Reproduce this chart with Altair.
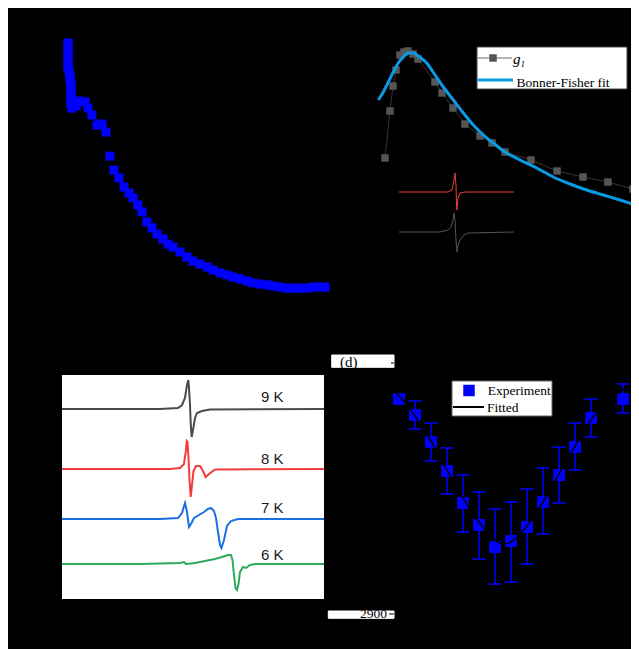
import altair as alt
import pandas as pd

# ---------------- Panel (a): susceptibility vs T ----------------
a_T = [6.7, 6.7, 6.7, 6.7, 6.7, 6.7, 6.7, 7.8, 8.9, 8.9, 10.0, 10.0, 10.0, 10.0, 10.0, 10.0, 11.1,
       15.6, 20.0, 25.6, 28.9, 33.3, 38.9, 44.4, 48.9, 53.3, 57.8,
       63.3, 68.9, 74.4, 78.9, 84.4, 88.9, 94.4, 100.0, 105.6, 112.2,
       117.8, 123.3, 131.1, 138.9, 145.6, 153.3, 161.1, 167.8, 175.6, 183.3,
       190.0, 197.8, 205.6, 212.2, 220.0, 227.8, 234.4, 242.2, 250.0, 256.7,
       264.4, 272.2, 278.9, 286.7, 292.2]
a_chi = [0.952, 0.937, 0.922, 0.907, 0.893, 0.878, 0.863, 0.848, 0.830, 0.815, 0.800, 0.785, 0.770, 0.756, 0.741, 0.726, 0.711,
         0.719, 0.737, 0.733, 0.711, 0.685, 0.648, 0.652, 0.622, 0.533, 0.481,
         0.452, 0.419, 0.396, 0.378, 0.352, 0.326, 0.289, 0.267, 0.244, 0.226,
         0.207, 0.196, 0.178, 0.159, 0.144, 0.133, 0.122, 0.111, 0.100, 0.093,
         0.085, 0.078, 0.070, 0.063, 0.059, 0.056, 0.052, 0.048, 0.044, 0.044,
         0.044, 0.044, 0.048, 0.048, 0.048]
A_X = [0, 300]
A_Y = [0, 1]

# ---------------- Panel (b): g_I vs T with Bonner-Fisher fit ----------------
b_T = [1.8, 2.8, 3.4, 4.0, 4.8, 5.6, 6.4, 7.4, 8.4, 11.8, 13.2, 15.4, 17.8, 20.8, 23.2, 25.8, 31.0, 36.2, 41.4, 46.4, 51.4]
b_g = [1.42, 1.89, 2.14, 2.30, 2.45, 2.48, 2.49, 2.46, 2.41, 2.18, 2.07, 1.92, 1.76, 1.64, 1.57, 1.48, 1.40, 1.29, 1.23, 1.18, 1.11]
fit_T = [0.46, 1.46, 2.46, 3.46, 4.46, 5.46, 6.46, 7.46, 8.46, 10.14, 11.8, 13.46, 15.46, 17.46, 19.46, 21.46,
         23.46, 25.8, 28.8, 32.14, 35.46, 38.8, 42.14, 45.46, 48.8, 52.6]
fit_v = [2.00, 2.08, 2.18, 2.28, 2.37, 2.43, 2.47, 2.47, 2.44, 2.37, 2.25, 2.13, 2.00, 1.87, 1.75, 1.65,
         1.57, 1.48, 1.40, 1.32, 1.23, 1.16, 1.10, 1.05, 1.00, 0.94]
ins_red_T = [4.6, 14.4, 15.2, 15.6, 15.8, 16.0, 16.1, 16.2, 16.4, 16.8, 17.8, 27.6]
ins_red_v = [1.08, 1.08, 1.10, 1.20, 1.27, 1.15, 0.95, 0.90, 1.02, 1.07, 1.08, 1.08]
ins_gray_T = [4.6, 12.8, 14.4, 15.0, 15.4, 15.6, 15.8, 16.0, 16.2, 16.4, 16.8, 17.4, 18.4, 27.6]
ins_gray_v = [0.68, 0.68, 0.70, 0.73, 0.80, 0.87, 0.80, 0.60, 0.48, 0.54, 0.60, 0.64, 0.67, 0.68]
B_X = [0, 51.0]
B_Y = [0, 2.7]

# ---------------- Panel (c): EPR spectra ----------------
c9_B = [2000, 2980, 3160, 3200, 3230, 3250, 3263, 3270, 3280, 3285, 3290, 3297, 3310, 3330, 3350, 3400, 3480, 4620]
c9_I = [190, 190, 191, 194, 201, 214, 219, 211, 194, 181, 171, 162, 169, 181, 186, 188, 189.5, 190]
c8_B = [2000, 3080, 3180, 3220, 3240, 3247, 3255, 3265, 3275, 3287, 3300, 3315, 3340, 3380, 3410, 3437, 3470, 3530, 4620]
c8_I = [130, 130, 131, 135, 149, 158, 157, 141, 119, 102, 114, 128, 133, 133, 128, 122, 125, 129.5, 130]
c7_B = [2000, 2980, 3160, 3200, 3220, 3230, 3250, 3270, 3290, 3320, 3370, 3420, 3460, 3490, 3520, 3540, 3560, 3580,
        3595, 3620, 3650, 3690, 3760, 4620]
c7_I = [80, 80, 81, 86, 93, 96, 87, 72, 75, 81, 84, 87, 90, 91, 88, 81, 67, 54, 51, 59, 73, 78, 80, 80]
c6_B = [2000, 2780, 3180, 3220, 3240, 3330, 3430, 3530, 3600, 3660, 3690, 3705, 3720, 3735, 3750, 3765, 3780, 3810,
        3840, 3880, 3940, 4620]
c6_I = [35, 35, 36, 37, 35, 36, 38, 40, 42, 44, 44, 39, 24, 11, 9, 15, 27, 32, 31, 34, 35, 35]
c_labels = ["9 K", "8 K", "7 K", "6 K"]
c_label_B = [3990, 3990, 3990, 3990]
c_label_I = [197.3, 135, 86, 39]
C_X = [2000, 4620]
C_Y = [0, 224]

# ---------------- Panel (d): angular dependence ----------------
d_angle = [0, 10, 20, 30, 40, 50, 60, 70, 80, 90, 100, 110, 120, 140]
d_val = [3118, 3102, 3075, 3046, 3014, 2992, 2970, 2976, 2990, 3015, 3042, 3070, 3099, 3118]
d_lo = [3114, 3088, 3056, 3023, 2985, 2958, 2933, 2935, 2953, 2983, 3014, 3047, 3080, 3104]
d_hi = [3122, 3116, 3094, 3069, 3042, 3025, 3008, 3015, 3028, 3049, 3070, 3094, 3118, 3133]
dfit_angle = [-14.375, 0, 10, 20, 30, 40, 50, 60, 65, 70, 80, 90, 100, 110, 120, 130, 140, 145]
dfit_val = [3136, 3121, 3101, 3076, 3047, 3019, 2995, 2977, 2973, 2975, 2991, 3015, 3043, 3071, 3097, 3116, 3127, 3130]
D_X = [-14.375, 145]
D_Y = [2918, 3142]

SERIF = "Liberation Serif"
SANS = "Liberation Sans"


def qx(field, dom):
    return alt.X(f"{field}:Q", scale=alt.Scale(domain=dom, nice=False, zero=False), axis=None)


def qy(field, dom):
    return alt.Y(f"{field}:Q", scale=alt.Scale(domain=dom, nice=False, zero=False), axis=None)


one = pd.DataFrame({"k": [0]})


def box(x1, x2, y1, y2, stroke="#555555"):
    return alt.Chart(one).mark_rect(fill="white", stroke=stroke, strokeWidth=1).encode(
        x=alt.value(x1), x2=alt.value(x2), y=alt.value(y1), y2=alt.value(y2))


def hline(x1, x2, y, color, w):
    return alt.Chart(one).mark_rule(color=color, strokeWidth=w).encode(
        x=alt.value(x1), x2=alt.value(x2), y=alt.value(y))


def label(txt, x, y, size, font=SERIF, style="normal", align="left", color="black"):
    return alt.Chart(one).mark_text(text=txt, font=font, fontSize=size, fontStyle=style,
                                    align=align, baseline="alphabetic", color=color).encode(
        x=alt.value(x), y=alt.value(y))


# ---- panel a ----
dfa = pd.DataFrame({"T": a_T, "chi": a_chi})
pa = alt.Chart(dfa).mark_square(size=81, color="#0000FF", opacity=1).encode(
    x=qx("T", A_X), y=qy("chi", A_Y)).properties(width=270, height=270)

# ---- panel b ----
dfb = pd.DataFrame({"T": b_T, "v": b_g})
dfbf = pd.DataFrame({"T": fit_T, "v": fit_v})
dfr = pd.DataFrame({"T": ins_red_T, "v": ins_red_v})
dfg = pd.DataFrame({"T": ins_gray_T, "v": ins_gray_v})
enc_b = dict(x=qx("T", B_X), y=qy("v", B_Y))
BLUE_FIT = "#0A9BE6"
pb = alt.layer(
    alt.Chart(dfb).mark_line(color="#444444", strokeWidth=0.8, clip=True).encode(**enc_b),
    alt.Chart(dfb).mark_square(size=56, color="#555555", opacity=1, clip=True).encode(**enc_b),
    alt.Chart(dfbf).mark_line(color=BLUE_FIT, strokeWidth=3, interpolate="monotone", clip=True).encode(**enc_b),
    alt.Chart(dfr).mark_line(color="#E8423A", strokeWidth=1).encode(**enc_b),
    alt.Chart(dfg).mark_line(color="#555555", strokeWidth=1).encode(**enc_b),
    box(101, 251, 17, 59, stroke="#444444"),
    hline(102, 136, 28, "#444444", 0.8),
    alt.Chart(one).mark_square(size=56, color="#555555", opacity=1).encode(x=alt.value(117), y=alt.value(28)),
    label("g", 137, 33.5, 15, style="italic"),
    label("I", 145.5, 37, 8, style="italic"),
    hline(102, 137, 50, BLUE_FIT, 3),
    label("Bonner-Fisher fit", 140.5, 56.5, 13.5),
).properties(width=255, height=270)

# ---- panel c ----
series_c = []
for B, I, col in [(c9_B, c9_I, "#4A4A4A"), (c8_B, c8_I, "#F23B3B"),
                  (c7_B, c7_I, "#1C6FE3"), (c6_B, c6_I, "#2BAA5A")]:
    df = pd.DataFrame({"B": B, "I": I})
    series_c.append(alt.Chart(df).mark_line(color=col, strokeWidth=2, clip=True).encode(
        x=qx("B", C_X), y=qy("I", C_Y)))
dfl = pd.DataFrame({"B": c_label_B, "I": c_label_I, "t": c_labels})
lab_c = alt.Chart(dfl).mark_text(font=SANS, fontSize=15, align="left", baseline="alphabetic",
                                 color="#1A1A1A").encode(x=qx("B", C_X), y=qy("I", C_Y), text="t:N")
pc = alt.layer(*series_c, lab_c).properties(
    width=262, height=224, view=alt.ViewBackground(fill="white", stroke=None))

# ---- panel d ----
dfd = pd.DataFrame({"a": d_angle, "v": d_val, "lo": d_lo, "hi": d_hi})
dfdf = pd.DataFrame({"a": dfit_angle, "v": dfit_val})
BLUE = "#0000FF"
pd_ = alt.layer(
    alt.Chart(dfd).mark_rule(color=BLUE, strokeWidth=1.5).encode(
        x=qx("a", D_X), y=qy("lo", D_Y), y2="hi:Q"),
    alt.Chart(dfd).mark_tick(color=BLUE, size=13, thickness=1.5, orient="horizontal", opacity=1).encode(
        x=qx("a", D_X), y=qy("lo", D_Y)),
    alt.Chart(dfd).mark_tick(color=BLUE, size=13, thickness=1.5, orient="horizontal", opacity=1).encode(
        x=qx("a", D_X), y=qy("hi", D_Y)),
    alt.Chart(dfd).mark_square(size=140, color=BLUE, opacity=1).encode(
        x=qx("a", D_X), y=qy("v", D_Y)),
    alt.Chart(dfdf).mark_line(color="black", strokeWidth=1.5, interpolate="monotone", clip=True).encode(
        x=qx("a", D_X), y=qy("v", D_Y)),
    box(76, 176, 6, 41, stroke="#666666"),
    alt.Chart(one).mark_square(size=132, color=BLUE, opacity=1).encode(x=alt.value(93), y=alt.value(15.5)),
    label("Experiment", 111.7, 20, 13.5),
    hline(77, 108, 32, "black", 2),
    label("Fitted", 111, 37, 13.5),
    box(-44.3, 18, -20, -7.7, stroke="white"),
    label("(d)", -36, -8.3, 15),
    hline(15, 18, -12, "black", 1),
    box(-47.7, 18, 236, 243.3, stroke="white"),
    label("2900", 11, 242.7, 13.5, align="right"),
    hline(13, 18, 239, "black", 1),
).properties(width=255, height=224)

chart = alt.concat(
    pa, pb, pc, pd_, columns=2, spacing={"row": 75, "column": 44}, bounds="flush", align="each",
    background="black", padding={"left": 54, "top": 22, "right": 0, "bottom": 50},
).configure_view(stroke=None)

chart.save("out.html", embed_options={"renderer": "svg", "actions": False})
